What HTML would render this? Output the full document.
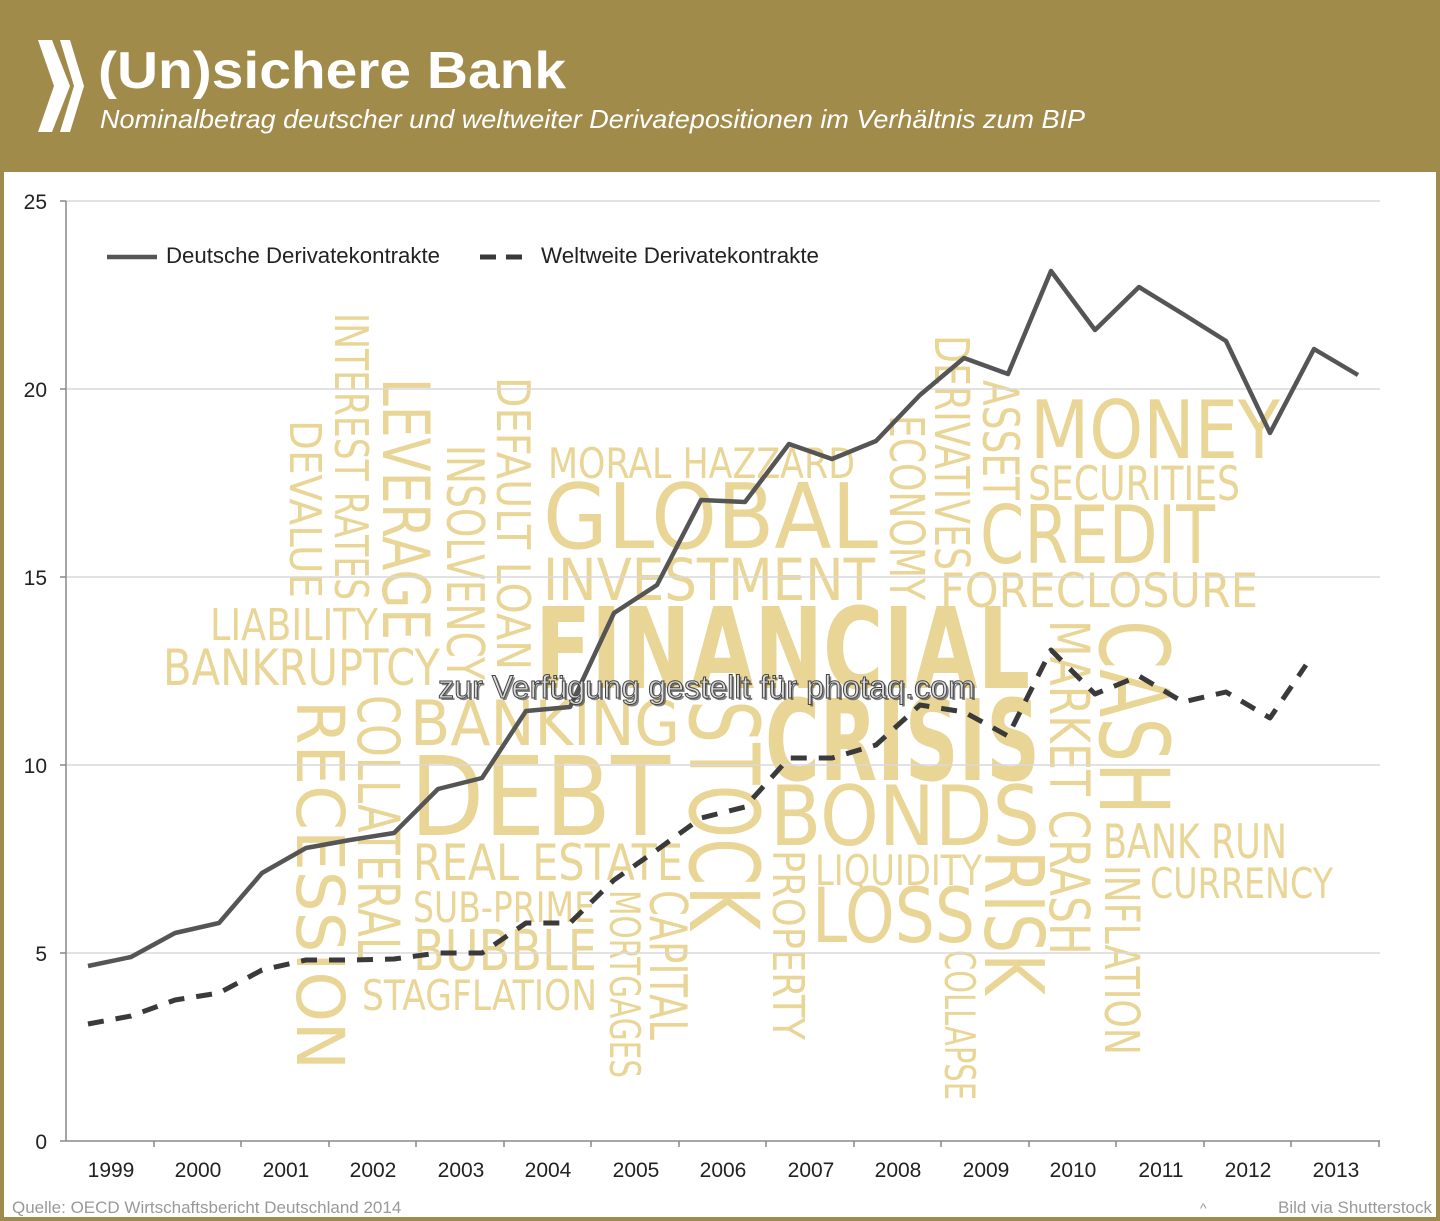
<!DOCTYPE html>
<html><head><meta charset="utf-8"><style>
html,body{margin:0;padding:0;background:#fff}
svg{display:block;font-family:"Liberation Sans",sans-serif}
</style></head><body>
<svg width="1440" height="1221" viewBox="0 0 1440 1221" xmlns="http://www.w3.org/2000/svg">
<rect x="0" y="0" width="1440" height="1221" fill="#a08b4b"/>
<rect x="4" y="172" width="1432" height="1045" fill="#fff"/>
<path d="M38 40 L52 40 L70 86 L52 132 L38 132 L54 86 Z" fill="#fff"/>
<path d="M60 40 L70 40 L84 86 L70 132 L60 132 L74 86 Z" fill="#fff"/>
<text x="98" y="88" font-size="52" font-weight="bold" fill="#fff" textLength="468" lengthAdjust="spacingAndGlyphs">(Un)sichere Bank</text>
<text x="100" y="128" font-size="26" font-style="italic" fill="#fff" textLength="985" lengthAdjust="spacingAndGlyphs">Nominalbetrag deutscher und weltweiter Derivatepositionen im Verhältnis zum BIP</text>

<g fill="#e9d596" font-family="'DejaVu Sans','Liberation Sans',sans-serif">
<text x="548" y="478" font-size="42" textLength="307" lengthAdjust="spacingAndGlyphs">MORAL HAZZARD</text>
<text x="543" y="548" font-size="90" textLength="335" lengthAdjust="spacingAndGlyphs">GLOBAL</text>
<text x="543" y="600" font-size="58" textLength="332" lengthAdjust="spacingAndGlyphs">INVESTMENT</text>
<text x="1030" y="458" font-size="80" textLength="250" lengthAdjust="spacingAndGlyphs">MONEY</text>
<text x="1028" y="500" font-size="47" textLength="212" lengthAdjust="spacingAndGlyphs">SECURITIES</text>
<text x="980" y="563" font-size="80" textLength="235" lengthAdjust="spacingAndGlyphs">CREDIT</text>
<text x="940" y="607" font-size="47" textLength="318" lengthAdjust="spacingAndGlyphs">FORECLOSURE</text>
<text x="210" y="640" font-size="44" textLength="168" lengthAdjust="spacingAndGlyphs">LIABILITY</text>
<text x="163" y="685" font-size="50" textLength="277" lengthAdjust="spacingAndGlyphs">BANKRUPTCY</text>
<text x="535" y="688" font-size="112" font-weight="bold" textLength="495" lengthAdjust="spacingAndGlyphs">FINANCIAL</text>
<text x="765" y="780" font-size="112" font-weight="bold" textLength="275" lengthAdjust="spacingAndGlyphs">CRISIS</text>
<text x="410" y="745" font-size="62" textLength="270" lengthAdjust="spacingAndGlyphs">BANKING</text>
<text x="410" y="835" font-size="110" textLength="260" lengthAdjust="spacingAndGlyphs">DEBT</text>
<text x="770" y="845" font-size="83" textLength="270" lengthAdjust="spacingAndGlyphs">BONDS</text>
<text x="413" y="880" font-size="50" textLength="270" lengthAdjust="spacingAndGlyphs">REAL ESTATE</text>
<text x="815" y="885" font-size="42" textLength="167" lengthAdjust="spacingAndGlyphs">LIQUIDITY</text>
<text x="812" y="942" font-size="76" textLength="163" lengthAdjust="spacingAndGlyphs">LOSS</text>
<text x="413" y="922" font-size="42" textLength="182" lengthAdjust="spacingAndGlyphs">SUB-PRIME</text>
<text x="413" y="970" font-size="56" textLength="184" lengthAdjust="spacingAndGlyphs">BUBBLE</text>
<text x="362" y="1010" font-size="42" textLength="235" lengthAdjust="spacingAndGlyphs">STAGFLATION</text>
<text x="1103" y="858" font-size="47" textLength="184" lengthAdjust="spacingAndGlyphs">BANK RUN</text>
<text x="1150" y="898" font-size="42" textLength="183" lengthAdjust="spacingAndGlyphs">CURRENCY</text>
<text transform="translate(290,420) rotate(90)" font-size="44" textLength="178" lengthAdjust="spacingAndGlyphs">DEVALUE</text>
<text transform="translate(335,313) rotate(90)" font-size="46" textLength="287" lengthAdjust="spacingAndGlyphs">INTEREST RATES</text>
<text transform="translate(383,378) rotate(90)" font-size="65" textLength="262" lengthAdjust="spacingAndGlyphs">LEVERAGE</text>
<text transform="translate(447,445) rotate(90)" font-size="52" textLength="235" lengthAdjust="spacingAndGlyphs">INSOLVENCY</text>
<text transform="translate(497,377) rotate(90)" font-size="46" textLength="293" lengthAdjust="spacingAndGlyphs">DEFAULT LOAN</text>
<text transform="translate(297,700) rotate(90)" font-size="66" textLength="370" lengthAdjust="spacingAndGlyphs">RECESSION</text>
<text transform="translate(358,695) rotate(90)" font-size="58" textLength="265" lengthAdjust="spacingAndGlyphs">COLLATERAL</text>
<text transform="translate(690,700) rotate(90)" font-size="96" textLength="230" lengthAdjust="spacingAndGlyphs">STOCK</text>
<text transform="translate(610,890) rotate(90)" font-size="42" textLength="188" lengthAdjust="spacingAndGlyphs">MORTGAGES</text>
<text transform="translate(650,890) rotate(90)" font-size="52" textLength="150" lengthAdjust="spacingAndGlyphs">CAPITAL</text>
<text transform="translate(773,850) rotate(90)" font-size="44" textLength="190" lengthAdjust="spacingAndGlyphs">PROPERTY</text>
<text transform="translate(890,415) rotate(90)" font-size="48" textLength="185" lengthAdjust="spacingAndGlyphs">ECONOMY</text>
<text transform="translate(935,335) rotate(90)" font-size="48" textLength="235" lengthAdjust="spacingAndGlyphs">DERIVATIVES</text>
<text transform="translate(983,380) rotate(90)" font-size="50" textLength="120" lengthAdjust="spacingAndGlyphs">ASSET</text>
<text transform="translate(945,950) rotate(90)" font-size="42" textLength="150" lengthAdjust="spacingAndGlyphs">COLLAPSE</text>
<text transform="translate(985,850) rotate(90)" font-size="82" textLength="145" lengthAdjust="spacingAndGlyphs">RISK</text>
<text transform="translate(1050,620) rotate(90)" font-size="55" textLength="335" lengthAdjust="spacingAndGlyphs">MARKET CRASH</text>
<text transform="translate(1100,620) rotate(90)" font-size="96" textLength="195" lengthAdjust="spacingAndGlyphs">CASH</text>
<text transform="translate(1105,865) rotate(90)" font-size="48" textLength="190" lengthAdjust="spacingAndGlyphs">INFLATION</text>
</g>

<g stroke="#d9d9d9" stroke-width="1.5">
<line x1="66" y1="201" x2="1380" y2="201"/>
<line x1="66" y1="389" x2="1380" y2="389"/>
<line x1="66" y1="577" x2="1380" y2="577"/>
<line x1="66" y1="765" x2="1380" y2="765"/>
<line x1="66" y1="953" x2="1380" y2="953"/>
</g>
<g stroke="#888" stroke-width="1.5">
<line x1="66" y1="201" x2="66" y2="1141"/>
<line x1="66" y1="1141" x2="1380" y2="1141"/>
<line x1="60" y1="201" x2="66" y2="201"/><line x1="60" y1="389" x2="66" y2="389"/>
<line x1="60" y1="577" x2="66" y2="577"/><line x1="60" y1="765" x2="66" y2="765"/>
<line x1="60" y1="953" x2="66" y2="953"/><line x1="60" y1="1141" x2="66" y2="1141"/>
<line x1="154" y1="1141" x2="154" y2="1147"/><line x1="241" y1="1141" x2="241" y2="1147"/>
<line x1="329" y1="1141" x2="329" y2="1147"/><line x1="416" y1="1141" x2="416" y2="1147"/>
<line x1="504" y1="1141" x2="504" y2="1147"/><line x1="591" y1="1141" x2="591" y2="1147"/>
<line x1="679" y1="1141" x2="679" y2="1147"/><line x1="766" y1="1141" x2="766" y2="1147"/>
<line x1="854" y1="1141" x2="854" y2="1147"/><line x1="941" y1="1141" x2="941" y2="1147"/>
<line x1="1029" y1="1141" x2="1029" y2="1147"/><line x1="1116" y1="1141" x2="1116" y2="1147"/>
<line x1="1204" y1="1141" x2="1204" y2="1147"/><line x1="1291" y1="1141" x2="1291" y2="1147"/>
<line x1="1379" y1="1141" x2="1379" y2="1147"/>
</g>
<g font-size="21" fill="#222" text-anchor="end">
<text x="47" y="209">25</text><text x="47" y="397">20</text><text x="47" y="585">15</text>
<text x="47" y="773">10</text><text x="47" y="961">5</text><text x="47" y="1149">0</text>
</g>
<g font-size="21" fill="#222" text-anchor="middle">
<text x="111" y="1177">1999</text><text x="198" y="1177">2000</text><text x="286" y="1177">2001</text>
<text x="373" y="1177">2002</text><text x="461" y="1177">2003</text><text x="548" y="1177">2004</text>
<text x="636" y="1177">2005</text><text x="723" y="1177">2006</text><text x="811" y="1177">2007</text>
<text x="898" y="1177">2008</text><text x="986" y="1177">2009</text><text x="1073" y="1177">2010</text>
<text x="1161" y="1177">2011</text><text x="1248" y="1177">2012</text><text x="1336" y="1177">2013</text>
</g>

<polyline fill="none" stroke="#555" stroke-width="4.5" stroke-linejoin="round" points="88,966 131,957 175,933 219,923 262,873 306,848 350,840 394,833 438,789 482,778 526,711 570,707 614,613 657,585 701,500 745,502 789,444 832,459 876,441 920,395 964,358 1008,374 1051,271 1095,330 1139,287 1183,314 1226,341 1270,433 1314,349 1358,375"/>
<polyline fill="none" stroke="#3a3a3a" stroke-width="5" stroke-dasharray="16,12" stroke-linejoin="round" points="88,1024 131,1016 175,1000 219,993 262,970 306,960 350,960 394,959 438,953 482,953 526,923 570,923 614,880 657,850 701,818 745,807 789,758 832,758 876,745 920,705 964,712 1008,736 1051,650 1095,694 1139,676 1183,702 1226,692 1270,718 1306,665"/>

<line x1="107" y1="257" x2="157" y2="257" stroke="#555" stroke-width="4.5"/>
<text x="166" y="263" font-size="22" fill="#222" textLength="274" lengthAdjust="spacingAndGlyphs">Deutsche Derivatekontrakte</text>
<line x1="480" y1="257" x2="532" y2="257" stroke="#3a3a3a" stroke-width="5" stroke-dasharray="16,10"/>
<text x="541" y="263" font-size="22" fill="#222" textLength="278" lengthAdjust="spacingAndGlyphs">Weltweite Derivatekontrakte</text>

<text x="440" y="700" font-size="32" fill="#333" opacity="0.6" textLength="537" lengthAdjust="spacingAndGlyphs">zur Verfügung gestellt für photaq.com</text>
<text x="438" y="698" font-size="32" fill="#ddd" stroke="#444" stroke-width="1" textLength="537" lengthAdjust="spacingAndGlyphs">zur Verfügung gestellt für photaq.com</text>

<text x="12" y="1213" font-size="17" fill="#999">Quelle: OECD Wirtschaftsbericht Deutschland 2014</text>
<text x="1432" y="1213" font-size="17" fill="#999" text-anchor="end">Bild via Shutterstock</text>
<text x="1200" y="1213" font-size="14" fill="#999">^</text>
</svg>
</body></html>
